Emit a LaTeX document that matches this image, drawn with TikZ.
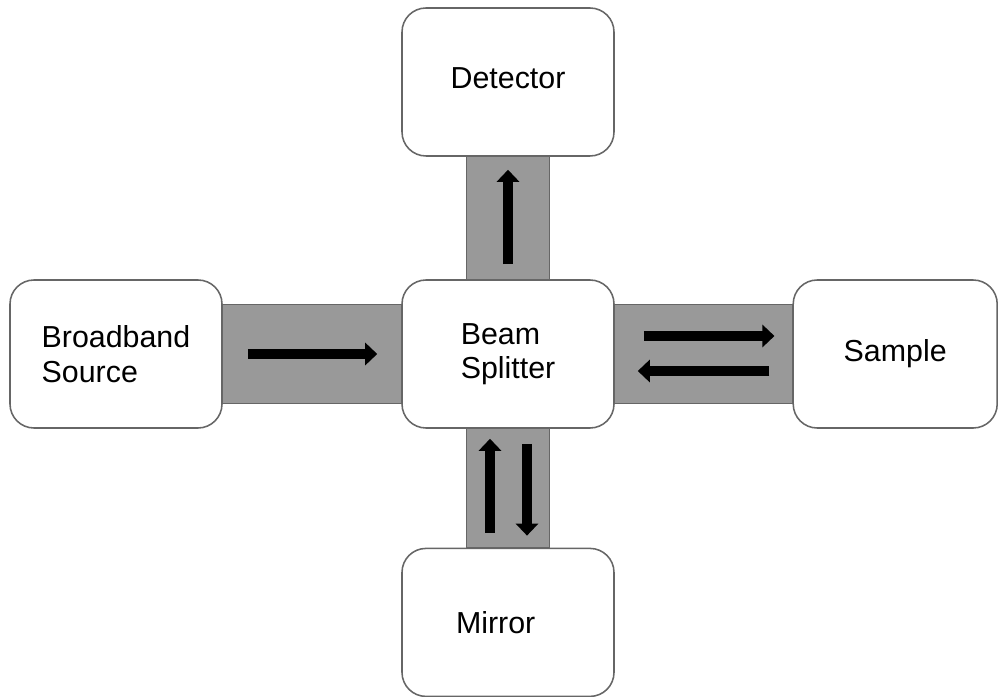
\documentclass[tikz,border=0pt]{standalone}
\usepackage{fontspec}
\setmainfont{Liberation Sans}
\usetikzlibrary{arrows.meta,backgrounds}
\definecolor{rim}{HTML}{666666}
\definecolor{pipe}{HTML}{999999}
\tikzset{
  box/.style={draw=rim,line width=1.1pt,fill=white,rounded corners=0.6cm,
    minimum width=5.3cm,minimum height=3.7cm,align=left,
    font=\fontsize{21.6}{24.6}\selectfont},
  channel/.style={draw=rim,line width=1pt,fill=pipe},
  beam/.style={line width=0.24cm,-{Triangle[length=0.3cm,width=0.55cm]}}
}
\begin{document}
\begin{tikzpicture}
\useasboundingbox (0,0) rectangle (24.95,17.4);

\node (bs) at (12.7,8.55)[box]{Beam\\Splitter};
\node (det) at (12.7,15.35)[box,text depth=0.2cm]{Detector};
\node (mir) at (12.7,1.84)[box,text width=2.6cm]{Mirror};
\node (src) at (2.9,8.55)[box]{Broadband\\Source};
\node (smp) at (22.38,8.55)[box,minimum width=5.1cm]{Sample};

% grey light paths between the boxes
\begin{scope}[on background layer]
\draw[channel] ([xshift=-1.04cm]det.south) rectangle ([xshift=1.04cm]bs.north);
\draw[channel] ([xshift=-1.04cm]bs.south) rectangle ([xshift=1.04cm]mir.north);
\draw[channel] ([yshift=1.24cm]src.east) rectangle ([yshift=-1.24cm]bs.west);
\draw[channel] ([yshift=1.24cm]bs.east) rectangle ([yshift=-1.24cm]smp.west);
\end{scope}

% beam directions
\draw[beam] ([xshift=0.625cm]src.east) -- ([xshift=-0.6cm]bs.west);
\draw[beam] ([yshift=0.375cm]bs.north) -- ([yshift=-0.325cm]det.south);
\draw[beam] ([shift={(0.725cm,0.45cm)}]bs.east) -- ([shift={(-0.45cm,0.45cm)}]smp.west);
\draw[beam] ([shift={(-0.575cm,-0.425cm)}]smp.west) -- ([shift={(0.575cm,-0.425cm)}]bs.east);
\draw[beam] ([shift={(-0.45cm,0.375cm)}]mir.north) -- ([shift={(-0.45cm,-0.25cm)}]bs.south);
\draw[beam] ([shift={(0.475cm,-0.375cm)}]bs.south) -- ([shift={(0.475cm,0.3cm)}]mir.north);

\end{tikzpicture}
\end{document}
